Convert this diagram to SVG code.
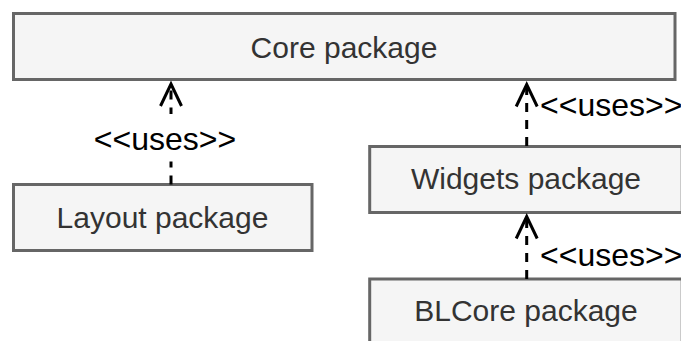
<svg xmlns="http://www.w3.org/2000/svg" width="681" height="341" viewBox="0 0 681 341">
  <style>
    .node rect { fill: #f5f5f5; stroke: #666666; stroke-width: 3; }
    .node text { font-family: "Liberation Sans", Arial, sans-serif; font-size: 30px; fill: #333333; text-anchor: middle; }
    .edge { fill: none; stroke: #000000; stroke-width: 3; stroke-dasharray: 9 8; marker-end: url(#open); }
    .lbl { font-family: "Liberation Sans", Arial, sans-serif; font-size: 32px; fill: #000000; }
  </style>
  <defs>
    <marker id="open" markerUnits="userSpaceOnUse" viewBox="-26 -15 30 30" refX="0" refY="0" markerWidth="30" markerHeight="30" orient="auto" overflow="visible">
      <path d="M-22,-10.5 L0,0 L-22,10.5" fill="none" stroke="#000000" stroke-width="3" stroke-dasharray="none"/>
    </marker>
  </defs>
  <rect width="681" height="341" fill="#ffffff"/>
  <g id="core" class="node">
    <rect x="13.5" y="13.5" width="661.5" height="66"/>
    <text x="344" y="57.5">Core package</text>
  </g>
  <g id="layout" class="node">
    <rect x="13.5" y="184.5" width="298.5" height="66"/>
    <text x="162.5" y="228.3">Layout package</text>
  </g>
  <g id="widgets" class="node">
    <rect x="369.7" y="146.5" width="312.5" height="66"/>
    <text x="526" y="189">Widgets package</text>
  </g>
  <g id="blcore" class="node">
    <rect x="369.7" y="279" width="312.5" height="66"/>
    <text x="526" y="321">BLCore package</text>
  </g>
  <g id="connectors">
    <g id="e1">
      <path class="edge" d="M171,184.5 V84"/>
      <rect x="88" y="114" width="154" height="47.5" fill="#ffffff"/>
      <text class="lbl" x="165" y="150" text-anchor="middle">&lt;&lt;uses&gt;&gt;</text>
    </g>
    <g id="e2">
      <path class="edge" d="M526.7,146 V84.5"/>
      <text class="lbl" x="540" y="116">&lt;&lt;uses&gt;&gt;</text>
    </g>
    <g id="e3">
      <path class="edge" d="M526.7,279 V216.5"/>
      <text class="lbl" x="540" y="266">&lt;&lt;uses&gt;&gt;</text>
    </g>
  </g>
</svg>
